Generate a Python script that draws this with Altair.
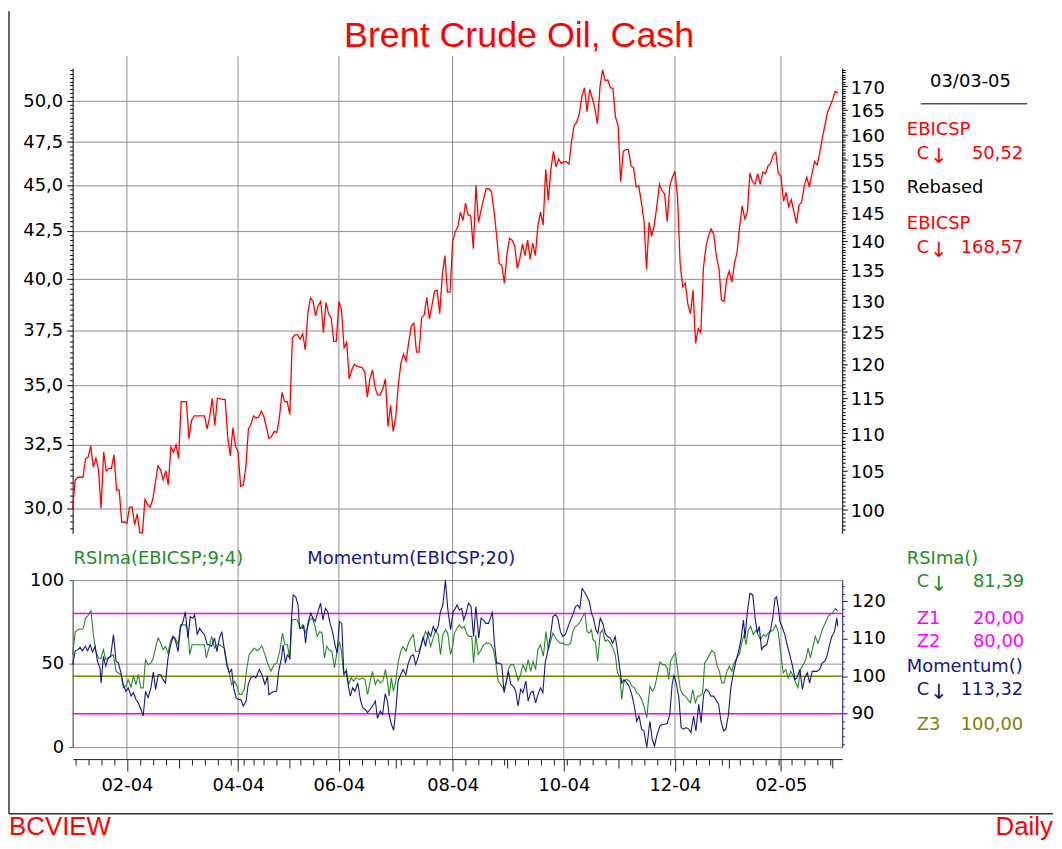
import altair as alt
import pandas as pd

# ---------------- data (x = trading-day number, 0 = 02/01/2004) ----------------
price_pts = [
    (0, 30.0), (1, 31.09), (2, 31.2), (4, 31.2), (5, 31.93), (6, 32.0), (7, 32.45), (8, 31.6), (9, 31.95), (10, 31.5),
    (11, 30.0), (12, 32.2), (13, 31.45), (14, 31.55), (15, 31.55), (16, 32.1), (17, 30.7), (18, 30.7), (19, 29.49), (20, 29.5),
    (21, 29.45), (22, 30.05), (23, 30.05), (24, 29.4), (25, 29.8), (26, 29.1), (27, 29.1), (28, 30.35), (29, 30.15), (30, 30.05),
    (31, 30.35), (33, 31.65), (34, 31.5), (35, 31.1), (36, 31.45), (37, 30.9), (38, 32.4), (39, 32.2), (40, 32.5), (41, 31.95),
    (42, 34.3), (44, 34.3), (45, 32.75), (46, 33.5), (47, 33.7), (51, 33.7), (52, 33.15), (53, 33.65), (54, 34.45), (55, 33.3),
    (56, 34.45), (58, 34.4), (59, 34.4), (60, 32.8), (61, 32.05), (62, 33.2), (63, 32.45), (64, 32.2), (65, 30.85), (66, 30.9),
    (67, 31.6), (68, 33.15), (69, 33.35), (70, 33.7), (71, 33.6), (72, 33.65), (73, 33.9), (74, 33.65), (76, 32.75), (77, 32.85),
    (78, 33.05), (79, 33.0), (80, 33.65), (81, 34.7), (82, 34.3), (83, 34.3), (84, 33.75), (85, 37.15), (86, 37.3), (87, 37.3),
    (88, 37.1), (89, 37.35), (90, 36.6), (91, 38.34), (92, 39.06), (93, 38.9), (94, 38.2), (95, 38.7), (96, 38.9), (97, 37.4),
    (98, 38.85), (99, 38.3), (100, 38.1), (101, 37.0), (102, 37.0),
    (103, 38.9), (104, 38.5), (105, 36.7), (106, 36.95), (107, 35.3), (108, 35.7), (109, 35.95), (110, 35.85), (112, 35.8), (113, 35.6),
    (114, 34.5), (115, 35.3), (116, 35.7), (117, 34.9), (118, 34.6), (119, 34.6), (120, 34.85), (121, 35.3), (122, 33.25), (123, 34.15),
    (124, 33.05), (125, 33.65), (126, 35.05), (127, 36.0), (128, 36.4), (129, 36.1), (130, 36.95), (131, 37.7), (132, 37.85), (133, 36.5),
    (134, 36.5), (135, 38.1), (136, 38.25), (137, 39.1), (138, 38.05), (139, 38.7), (140, 39.4), (141, 39.45), (142, 38.3), (143, 40.2),
    (144, 41.2), (145, 39.35), (146, 39.35), (147, 41.9), (148, 42.45), (149, 42.7), (150, 43.5), (151, 43.05), (152, 44.0), (153, 43.35),
    (154, 43.3), (155, 41.55), (156, 45.0), (157, 42.95), (158, 43.6), (159, 44.25), (160, 44.8), (161, 44.8), (162, 44.65), (163, 43.6),
    (164, 42.25), (165, 40.8), (166, 40.7), (167, 39.8), (168, 41.25), (169, 42.1), (170, 42.0), (171, 41.7), (172, 40.55), (173, 41.05),
    (174, 41.8), (175, 41.2), (176, 42.0), (177, 41.0), (178, 41.85), (179, 41.2), (180, 42.8), (181, 43.5), (182, 42.8), (183, 45.9),
    (184, 44.15), (185, 45.9), (186, 46.95), (187, 46.05), (188, 46.5), (189, 46.25), (190, 46.35), (191, 46.35), (192, 46.2), (193, 47.55),
    (194, 48.5), (195, 48.7), (196, 49.2), (197, 50.3), (198, 50.85), (199, 49.35), (200, 50.75), (201, 50.2), (202, 49.6), (203, 48.6),
    (204, 50.9), (205, 52.0), (206, 51.3), (207, 51.35), (208, 50.85), (209, 50.8), (210, 49.0),
    (211, 48.5), (212, 45.2), (213, 46.95), (214, 47.05), (215, 47.05), (216, 46.1), (217, 46.0), (218, 44.9), (219, 44.95), (220, 44.05),
    (221, 43.05), (222, 40.5), (223, 42.95), (224, 42.2), (225, 42.8), (226, 43.85), (227, 45.05), (228, 44.7), (229, 44.5), (230, 43.0),
    (231, 44.95), (232, 45.45), (233, 45.8), (234, 44.3), (235, 40.8), (236, 39.6), (237, 39.8), (238, 38.75), (239, 38.3), (240, 39.45),
    (241, 36.9), (242, 37.6), (243, 37.4), (244, 40.55), (245, 41.65), (246, 42.25), (247, 42.6), (248, 42.3), (249, 41.2), (250, 40.55),
    (251, 38.95), (252, 38.9), (253, 40.0), (254, 40.4), (255, 39.85), (256, 40.8), (257, 41.35), (258, 42.7), (259, 43.85), (260, 43.15),
    (261, 43.5), (262, 45.7), (263, 45.2), (264, 45.05), (265, 45.65), (266, 45.05), (267, 45.75), (268, 45.65), (269, 46.1), (270, 46.25),
    (271, 46.75), (272, 46.9), (273, 45.65), (274, 45.55), (275, 44.1), (276, 44.6), (277, 43.8), (278, 44.2), (279, 43.55), (280, 42.9),
    (281, 43.9), (282, 44.05), (283, 44.95), (284, 45.45), (285, 44.9), (286, 45.65), (287, 46.35), (288, 46.15), (289, 46.85), (290, 47.75),
    (291, 48.5), (292, 49.3), (293, 49.7), (294, 50.1), (295, 50.6), (296, 50.52),
]

rsi_pts = [
    (0, 55.4), (1, 69), (2.3, 70.6), (3.6, 70.6), (4.2, 71.6), (4.9, 77), (5.9, 78.8), (7.1, 81.7), (8.1, 66.3), (9, 57.3),
    (10, 53.4), (10.9, 53), (11.9, 58.3), (12.8, 52.4), (13.8, 53.4), (14.7, 54.4), (15.8, 55.4), (16.8, 45.4), (17.7, 44.4), (18.7, 43.5),
    (19.6, 35.5), (20.6, 36.5), (21.5, 40.5), (22.6, 35.9), (23.5, 42.5), (24.5, 37.5), (25.4, 43.5), (26.4, 35.5), (27.3, 35.5), (28.2, 52.4),
    (29.2, 49.4), (30.3, 50.4), (31.2, 53.4), (32.2, 60.3), (33.1, 65.3), (34.1, 62.3), (35, 58.3), (35.9, 60.3), (36.9, 56.3), (37.8, 63.3),
    (38.8, 66.3), (39.7, 65.3), (40.8, 61.3), (41.7, 73.2), (43.6, 73.2), (44.6, 70.2), (45.3, 55.4), (46.2, 61.3), (47.2, 61.3), (51, 61.3),
    (51.7, 53.4), (52.9, 60.3), (53.8, 66.3), (54.9, 59.3), (55.8, 61.3), (56.8, 61.3), (57.7, 60.3), (58.7, 59.3), (59.7, 50.4), (60.6, 44.4),
    (61.5, 37.5), (62.6, 39.5), (63.6, 36.5), (64.5, 31.5), (65.4, 31.5), (66.4, 34.5), (67.4, 47.4), (68.3, 55.4), (69.2, 57.3), (70.3, 59.3),
    (71.3, 57.7), (72.3, 58.9), (73.2, 60.7), (74.4, 55.4), (75.4, 50.4),
    (76.7, 45.4), (77.9, 49.4), (79, 50.4), (80.1, 57.3), (81.2, 68.3), (82.1, 61.3), (83.1, 61.3), (84, 52.4), (84.9, 76.2),
    (85.9, 76.6), (86.9, 76.2), (88, 71.2), (89, 73.2), (89.9, 68.3), (90.8, 71.2), (91.7, 76.2), (92.7, 77.2), (93.6, 73.2), (94.6, 66.3),
    (95.6, 69.2), (96.5, 68.3), (97.4, 53.4), (98.3, 60.3), (99.2, 58.3), (100.3, 57.3), (101.3, 47.4), (102.3, 57.3), (103.2, 63.3), (103.9, 58.3),
    (104.9, 42.5), (105.9, 46.4), (106.8, 37.5), (107.7, 41.5), (108.7, 39.5), (109.6, 41.5), (110.9, 40.5), (112.2, 41.5), (113.1, 40.5), (114.1, 31.5),
    (115.1, 39.5), (116, 45.4), (117.1, 37.5), (118, 40.5), (119, 38.5), (120, 39.5), (121, 46.4), (121.8, 39.5), (122.4, 30.6), (123.3, 41.5),
    (124.1, 33.5), (125, 39.5), (125.9, 50.4), (126.9, 57.3), (127.8, 60.3), (128.9, 57.3), (129.7, 61.3), (130.8, 65.3), (131.8, 67.3), (132.7, 57.3),
    (133.7, 57.3), (134.6, 60.3), (135.5, 64.3), (136.5, 69.2), (137.6, 66.3), (138.5, 60.3), (139.5, 65.3), (140.4, 70.2), (141.4, 67.3), (142.3, 55.4),
    (143.2, 67.3), (144.2, 70.2), (145.1, 68.3), (146.2, 55.4), (147.1, 61.3),
    (147.7, 68.3), (148.7, 71.2), (149.6, 73.2), (150.5, 71.2), (151.5, 72.2), (152.6, 67.3), (153.5, 66.3), (154.4, 66.3), (155.1, 50.4), (156, 67.3),
    (156.9, 55.4), (158, 58.3), (159, 61.3), (159.9, 62.3), (160.9, 62.3), (161.8, 61.3), (162.8, 58.3), (163.7, 50.4), (164.6, 39.5), (165.6, 37.5),
    (166.7, 34.5), (167.6, 37.5), (168.5, 46.4), (169.5, 49.4), (170.5, 49.4), (171.4, 45.4), (172.3, 39.9), (173.3, 43.5), (174.2, 49.4), (175.3, 45.4),
    (176.2, 52.4), (177.2, 45.4), (178.1, 51.4), (179.1, 46.4), (180, 58.3), (181, 61.3), (182.1, 54.4), (183.1, 69.2), (184, 58.3), (184.9, 63.3),
    (185.8, 68.3), (186.8, 65.3), (187.8, 63.3), (188.7, 62.3), (189.7, 62.3), (190.6, 61.3), (191.7, 61.3), (192.6, 62.3), (193.5, 69.2), (194.5, 72.2),
    (195.4, 73.2), (196.4, 75.2), (197.3, 78.2), (198.2, 80.2), (199, 69.2), (199.9, 68.3), (200.7, 70.2), (201.3, 64.3), (202.2, 63.3), (203.1, 51.4),
    (204.1, 68.3), (205, 70.2), (206, 63.3), (206.9, 64.3), (208, 62.3), (209, 59.3), (209.9, 55.4), (210.8, 44.4), (211.8, 41.5), (212.4, 28.6),
    (213.3, 39.5), (214.4, 40.5), (215.4, 39.5), (216.3, 36.5), (217.3, 35.5), (218.2, 32.5), (219.1, 31.5), (220.1, 28.6), (221, 24.6), (222.1, 17.7),
    (223.3, 36.5), (224.2, 33.5), (225.1, 35.5), (226.1, 42.5), (227.2, 51), (228.1, 49.4), (229, 49.4), (230, 47.4), (230.6, 40.5), (231.3, 51.4),
    (232.3, 54.4), (233.2, 56.3), (234.1, 45.4), (235.1, 34.5), (236.1, 31.5), (237, 30.6), (237.9, 28.6), (239, 26.6), (239.9, 34.5), (240.9, 26.6),
    (241.8, 30.6), (242.8, 30.6), (243.7, 32.5), (244.5, 50.4), (245.4, 52.4), (246.4, 55.4), (247.3, 57.9), (248.3, 56.3), (249.2, 49.4), (250.2, 45.4),
    (251.1, 38.5), (252, 38.5), (253.1, 45.4), (254, 48.4), (255, 45.4), (255.9, 50.4), (256.9, 53.4), (257.9, 55.4), (258.8, 62.3), (259.7, 67.3),
    (260.5, 61.3), (261.4, 70.2), (262.3, 72.2), (263.3, 67.3), (264.4, 70.2), (265.2, 67.3), (266.1, 64.3), (267.2, 67.3), (268.1, 66.3), (269.1, 68.3),
    (270, 69.2), (271, 70.2), (272, 73.2), (272.9, 69.2), (274, 55.4), (274.9, 44.4), (275.9, 46.4), (276.8, 41.5), (277.8, 45.4), (278.7, 42.5),
    (279.7, 38.5), (280.6, 35.5), (281.5, 46.4), (282.6, 49.4), (283.6, 52.4), (284.5, 59.3), (285.4, 53.4), (286.4, 60.3), (287.3, 66.3), (288.3, 62.3),
    (289.2, 66.3), (290.2, 71.2), (291.1, 74.2), (292.2, 78.2), (293.1, 79.6), (294.1, 80.8), (295.1, 83.1), (296, 81.39),
]

mom_pts = [
    (0, 103.1), (1, 106.8), (2.1, 107.1), (2.9, 107.7), (3.8, 106.8), (4.9, 108), (5.8, 106.8), (6.8, 108.4), (7.7, 106.5), (8.7, 108),
    (9.6, 104), (10.6, 102.2), (11, 98.2), (11.9, 105.3), (12.8, 102.7), (13.8, 104.9), (14.7, 105.3), (15.8, 111.1), (16.8, 104), (17.7, 103.5),
    (18.7, 100.9), (19.6, 97.8), (20.6, 96), (21.5, 96.9), (22.6, 94.7), (23.5, 95.6), (24.5, 93.8), (25.4, 92.9), (26.4, 91.2), (27.3, 89.4),
    (28.2, 96), (29.2, 94.3), (30.3, 96.9), (31.2, 101.1), (32.1, 96.5), (33.1, 100.4), (34.1, 100.4), (35, 99.1), (35.9, 98.2), (36.9, 104.9),
    (37.8, 108), (38.8, 110.6), (39.7, 109.7), (40.8, 106.6), (41.7, 112.8), (42.7, 114.6), (43.6, 117.2), (44.6, 110.2), (45.5, 115.9), (46.5, 115.5),
    (47.2, 116.4), (48.2, 111.1), (49.1, 112.8), (50, 111.9), (51, 111.1), (52.1, 108.4), (52.9, 108.4), (53.8, 108), (54.9, 110.2), (55.8, 106.6),
    (56.8, 110.2), (57.7, 111.9), (58.7, 107.1), (59.7, 102.7), (60.6, 100.9), (61.5, 101.8), (62.3, 96.9), (63.2, 94.3), (64.1, 93.8), (65.1, 93.8),
    (66, 92), (67.1, 93.4), (67.9, 97.8), (68.9, 99.6), (70, 100), (70.9, 99.6), (72.2, 101.8), (73.2, 100.4), (74.4, 97.8), (75.4, 100),
    (75.9, 95.1), (76.9, 95.6), (77.9, 96), (78.9, 96), (79.7, 101.3), (80.8, 104.9), (81.4, 108.4), (82.3, 103.5), (83.1, 105.7), (84, 104.9),
    (84.6, 114.6), (85.3, 121.7), (86.3, 121.2), (87.2, 119), (87.8, 112.8), (88.9, 112.8), (89.4, 113.7), (90.1, 108.8), (91, 114.1), (92.1, 116.8),
    (93, 115.5), (93.8, 114.6), (94.9, 117.2), (95.9, 119.5), (96.8, 115), (97.8, 118.1), (98.7, 117.2), (99.6, 114.1), (100.5, 111.9), (101.5, 108.4),
    (102.3, 106.2), (103.2, 114.6), (104.1, 114.1), (104.9, 100.9), (105.8, 101.3), (106.7, 97.3), (107.4, 94.7), (108.3, 96.9), (109.2, 96), (110.3, 98.2),
    (111.3, 93.8), (112.2, 91.6), (113.1, 91.2), (114.1, 90.3), (115.1, 91.2), (116, 92), (117.1, 93.4), (117.9, 88.8), (119, 90.7), (119.9, 89.8),
    (120.9, 95.3), (121.8, 93.4), (122.4, 89.8), (123.3, 87.2), (124.2, 85.6), (125.1, 91.6), (125.9, 98.7), (126.9, 100.4), (127.8, 101.8), (128.9, 100.4),
    (129.7, 103.1), (130.8, 105.3), (131.8, 105.7), (132.7, 103.1), (133.6, 104.9), (134.6, 107.5), (135.6, 110.6), (136.5, 108), (137.6, 111.9), (138.5, 110.6),
    (139.5, 113.3), (140.4, 111.9), (141.4, 113.3), (142.3, 117.2), (143.2, 119), (144.2, 125.6), (145.1, 118.1), (146.2, 112.4), (147.2, 117.2),
    (147.7, 117.7), (148.7, 119), (149.6, 117.7), (150.5, 118.1), (151.3, 115), (152.2, 116.8), (153.1, 119.5), (154.1, 118.6), (155.1, 110.6), (156, 118.6),
    (157.1, 110.2), (158, 115.5), (159, 115), (159.9, 114.1), (160.9, 114.1), (161.8, 115.9), (162.4, 117.2), (163.1, 109.3), (164, 103.5), (165, 103.5),
    (166, 103.1), (166.9, 95.6), (167.8, 98.7), (168.6, 101.3), (169.5, 97.8), (170.5, 97.3), (171.4, 96), (172.3, 92), (173.3, 96.5), (174.2, 95.6),
    (175.3, 98.7), (176.2, 93.4), (177.2, 95.6), (178.1, 96), (179.1, 92.9), (180, 95.1), (181, 96.9), (181.9, 95.6), (182.8, 103.5), (183.9, 107.1),
    (184.9, 111.1), (185.8, 115.9), (186.8, 116.4), (187.7, 115.5), (188.7, 111.9), (189.6, 110.6), (190.6, 111.1), (191.7, 113.3), (192.6, 115), (193.5, 116.4),
    (194.5, 118.6), (195.4, 119), (196.2, 118.1), (197.1, 123.4), (198, 122.5), (199, 121.2), (199.9, 119.9), (200.7, 116.8), (201.5, 115.5), (202.4, 112.4),
    (203.2, 111.5), (204.1, 115.5), (205.1, 114.1), (206, 111.5), (206.9, 110.6), (208, 110.2), (208.9, 108.8), (209.9, 110.6), (210.8, 106.6), (211.8, 101.3),
    (212.4, 98.2), (213.3, 99.1), (214.4, 98.2), (215.3, 97.3), (216.3, 95.1), (217.3, 92), (218.2, 88), (219.1, 89.4), (220.1, 85.9), (221, 85.4),
    (222.1, 81), (223.3, 88), (224.2, 83.2), (225.1, 81.4), (226.1, 84.5), (227.2, 86.7), (228.1, 87.2), (229, 87.2), (230, 87.4), (231, 89.8),
    (231.9, 97.8), (232.6, 100.4), (233.6, 97.8), (234.5, 94.3), (235.4, 86.3), (236.4, 85.9), (237.3, 86.3), (238.3, 85.9), (239.2, 85), (240.2, 89.4),
    (241.1, 85.4), (242.2, 92.5), (243.1, 87.6), (244.1, 95.1), (245, 96.5), (246, 96), (246.9, 94.7), (247.9, 94.7), (248.8, 93.8), (249.9, 92.5),
    (250.8, 88), (251.8, 85.4), (252.7, 85.9), (253.7, 89.8), (254.6, 96.9), (255.6, 100.9), (256.7, 104.4), (257.6, 106.6), (258.5, 109.7), (259.5, 115),
    (260.1, 110.2), (261, 117.2), (262, 122.1), (263.1, 121.7), (264, 115.5), (264.9, 111.5), (265.6, 113.3), (266.5, 107.1), (267.4, 108), (268.5, 108.4),
    (269.4, 111.1), (270.1, 112.8), (271, 116.4), (271.7, 120.8), (272.3, 121.2), (273, 118.1), (273.6, 114.6), (274.6, 112.8), (275.5, 111.1), (276.4, 108.4),
    (277.4, 105.7), (278.5, 102.7), (279.4, 99.1), (280.2, 99.6), (281.3, 101.8), (282.3, 96.5), (283.2, 99.6), (284.2, 100.9), (285.1, 98.2), (286.1, 101.3),
    (287, 101.3), (287.9, 101.3), (289, 101.8), (289.9, 103.5), (290.9, 104), (291.8, 105.3), (292.8, 108.4), (293.7, 110.6), (294.7, 111.9), (295.6, 115.5),
    (296, 113.32),
]

tick_labels = ["02-04", "04-04", "06-04", "08-04", "10-04", "12-04", "02-05"]
tick_label_days = [21, 64, 103, 147, 190, 233, 274]
other_month_days = [41, 84, 125, 168, 211, 254, 294]
uk_holidays = ["2004-04-09", "2004-04-12", "2004-05-03", "2004-05-31",
               "2004-08-30", "2004-12-27", "2004-12-28", "2005-01-03"]
first_day, last_day = "2004-01-02", "2005-03-03"

last_close = 50.52
last_rebased = 168.57
last_rsi = 81.39
last_mom = 113.32
rsi_zones = [20, 80]
mom_zone = 100

price_range = [29.08, 52.12]
rsi_range = [0, 100]
mom_range = [81.09, 125.65]
day_range = [0, 297.7]

# ---------------- styling ----------------
FONT = "DejaVu Sans"
TFONT = "Liberation Sans"
FS = 18
RED = "#ff0000"
GREEN = "#228b22"
NAVY = "#14148c"
MAG = "#ff00ff"
OLIVE = "#808000"
GRID = "#8c8c8c"
INK = "#000000"
W, H1, H2 = 774, 468, 168


def dec(v):
    return f"{v:.2f}".replace(".", ",")


rebase = last_rebased / last_close
price_df = pd.DataFrame(price_pts, columns=["i", "close"])
price_df["rebased"] = price_df["close"] * rebase
rsi_df = pd.DataFrame(rsi_pts, columns=["i", "rsi"])
mom_df = pd.DataFrame(mom_pts, columns=["i", "mom"])

days = pd.bdate_range(first_day, last_day)
days = days[~days.isin(pd.to_datetime(uk_holidays))]
wd = list(days.weekday)
week_days = [k for k in range(1, len(days)) if wd[k] < wd[k - 1]]

xs = alt.Scale(domain=day_range, nice=False, zero=False)
X_none = alt.X("i:Q", scale=xs, axis=None)
one = pd.DataFrame({"a": [0]})

lbl = dict(labelFont=FONT, labelFontSize=FS, labelColor=INK, title=None,
           labelOverlap=False, labelFlush=False)


def texts(rows, align="left", font=FONT, size=FS, baseline="middle"):
    return alt.layer(*[
        alt.Chart(one).mark_text(text=t, color=c, align=align, baseline=baseline, font=font, fontSize=size)
        .encode(x=alt.value(px), y=alt.value(py))
        for (t, px, py, c) in rows])


# ---------------- top panel ----------------
left_vals = [q / 4 for q in range(117, 209)]
major_left = "datum.value % 2.5 == 0"
left_axis = alt.Axis(
    values=left_vals, orient="left",
    labelExpr=f"{major_left} ? replace(format(datum.value, '.1f'), '.', ',') : ''",
    tickSize={"condition": {"test": major_left, "value": 6}, "value": 3},
    grid=True, gridColor=GRID, gridWidth=1,
    gridOpacity={"condition": {"test": major_left, "value": 1}, "value": 0},
    domainColor=INK, tickColor=INK, labelPadding=4, **lbl)

right_vals = [q / 2 for q in range(195, 348)]
major_right = "datum.value % 5 == 0"
right_axis = alt.Axis(
    values=right_vals, orient="right",
    labelExpr=f"{major_right} ? format(datum.value, 'd') : ''",
    tickSize={"condition": {"test": major_right, "value": 5}, "value": 3},
    grid=False, domainColor=INK, tickColor=INK, labelPadding=3, labelOffset=2, **lbl)

vgrid_top = alt.Chart(pd.DataFrame({"i": tick_label_days})).mark_rule(color=GRID, strokeWidth=1).encode(
    x=X_none, y=alt.value(-12), y2=alt.value(475))

price_line = alt.Chart(price_df).mark_line(color=RED, strokeWidth=1.3).encode(
    x=X_none,
    y=alt.Y("close:Q", scale=alt.Scale(type="log", domain=price_range, nice=False), axis=left_axis))

reb_line = alt.Chart(price_df).mark_line(color=RED, strokeOpacity=0).encode(
    x=X_none,
    y=alt.Y("rebased:Q", scale=alt.Scale(type="log", domain=[v * rebase for v in price_range], nice=False),
            axis=right_axis))

title_txt = texts([("Brent Crude Oil, Cash", 449, -21, RED)], align="center", font=TFONT, size=36,
                  baseline="alphabetic")
top_left_txt = texts([("EBICSP", 839, 62, RED), ("C", 849, 86, RED), ("Rebased", 839, 121, INK),
                      ("EBICSP", 839, 157, RED), ("C", 849, 181, RED)])
top_center_txt = texts([("03/03-05", 903, 14, INK)], align="center")
top_arrows = texts([("↓", 871, 89, RED), ("↓", 871, 184, RED)], align="center", size=21)
top_right_txt = texts([(dec(last_close), 956, 86, RED), (dec(last_rebased), 956, 181, RED)], align="right")
date_rule = alt.Chart(one).mark_rule(color=INK, strokeWidth=1).encode(
    x=alt.value(853), x2=alt.value(960), y=alt.value(36))

top = alt.layer(vgrid_top, price_line, reb_line, title_txt, top_left_txt, top_center_txt, top_arrows,
                top_right_txt, date_rule).resolve_scale(y="independent").properties(width=W, height=H1)

# ---------------- bottom panel ----------------
maj_test = " || ".join(f"datum.value == {d}" for d in tick_label_days)
med_test = " || ".join(f"datum.value == {d}" for d in other_month_days)
label_expr = " : ".join(f"datum.value == {d} ? '{t}'" for d, t in zip(tick_label_days, tick_labels)) + " : ''"
x_vals = sorted(set(week_days) | set(tick_label_days) | set(other_month_days))
x_axis = alt.Axis(
    values=x_vals, orient="bottom", offset=12, grid=False, labelExpr=label_expr,
    tickSize={"condition": [{"test": maj_test, "value": 12}, {"test": med_test, "value": 9}], "value": 6},
    domainColor="#222222", tickColor="#222222", labelPadding=6, **lbl)
X_bot = alt.X("i:Q", scale=xs, axis=x_axis)

rsi_axis = alt.Axis(values=[0, 50, 100], orient="left", grid=True, gridColor=GRID, tickSize=4,
                    tickColor=GREEN, domainColor="#333333", labelPadding=5, **lbl)

mom_vals = list(range(82, 126, 2))
major_mom = "datum.value % 10 == 0"
mom_axis = alt.Axis(
    values=mom_vals, orient="right",
    labelExpr=f"{major_mom} ? format(datum.value, 'd') : ''",
    tickSize={"condition": {"test": major_mom, "value": 5}, "value": 2},
    grid=False, domainColor=NAVY, tickColor=NAVY, labelPadding=4, **lbl)

rsi_scale = alt.Scale(domain=rsi_range, nice=False, zero=False)
mom_scale = alt.Scale(domain=mom_range, nice=False, zero=False)

vgrid_bot = alt.Chart(pd.DataFrame({"i": tick_label_days})).mark_rule(color=GRID, strokeWidth=1).encode(
    x=X_bot, y=alt.value(-40), y2=alt.value(180))
mag_rules = alt.Chart(pd.DataFrame({"v": rsi_zones})).mark_rule(color=MAG, strokeWidth=1.3).encode(
    y=alt.Y("v:Q", scale=rsi_scale, axis=None))
olive_rule = alt.Chart(pd.DataFrame({"v": [mom_zone]})).mark_rule(color=OLIVE, strokeWidth=1.3).encode(
    y=alt.Y("v:Q", scale=mom_scale, axis=None))
rsi_line = alt.Chart(rsi_df).mark_line(color=GREEN, strokeWidth=1.1).encode(
    x=X_bot, y=alt.Y("rsi:Q", scale=rsi_scale, axis=rsi_axis))
mom_line = alt.Chart(mom_df).mark_line(color=NAVY, strokeWidth=1.1).encode(
    x=X_bot, y=alt.Y("mom:Q", scale=mom_scale, axis=mom_axis))

bot_left_txt = texts([("RSIma(EBICSP;9;4)", 1, -21, GREEN), ("Momentum(EBICSP;20)", 236, -21, NAVY),
                      ("RSIma()", 839, -21, GREEN), ("C", 849, 2, GREEN), ("Z1", 849, 39, MAG),
                      ("Z2", 849, 62, MAG), ("Momentum()", 839, 87, NAVY), ("C", 849, 111, NAVY),
                      ("Z3", 849, 146, OLIVE)])
bot_arrows = texts([("↓", 871, 5, GREEN), ("↓", 871, 114, NAVY)], align="center", size=21)
bot_right_txt = texts([(dec(last_rsi), 957, 2, GREEN), (dec(rsi_zones[0]), 957, 39, MAG),
                       (dec(rsi_zones[1]), 957, 62, MAG), (dec(last_mom), 956, 111, NAVY),
                       (dec(mom_zone), 956, 146, OLIVE)], align="right")
brand_txt = texts([("BCVIEW", -64, 256, RED)], font=TFONT, size=26, baseline="alphabetic")
daily_txt = texts([("Daily", 986, 256, RED)], align="right", font=TFONT, size=26, baseline="alphabetic")
frame_left = alt.Chart(one).mark_rule(color="#333333", strokeWidth=1.5).encode(
    x=alt.value(-64), y=alt.value(-572), y2=alt.value(235))
frame_bottom = alt.Chart(one).mark_rule(color="#333333", strokeWidth=1.5).encode(
    x=alt.value(-64), x2=alt.value(986), y=alt.value(235))

bottom = alt.layer(vgrid_bot, mag_rules, olive_rule, rsi_line, mom_line, bot_left_txt, bot_arrows,
                   bot_right_txt, brand_txt, daily_txt, frame_left, frame_bottom
                   ).resolve_scale(y="independent").properties(width=W, height=H2)

chart = alt.vconcat(top, bottom, spacing=47, bounds="flush", padding=0).configure_view(stroke=None)

chart.save("out.html", embed_options={"renderer": "svg", "actions": False})
